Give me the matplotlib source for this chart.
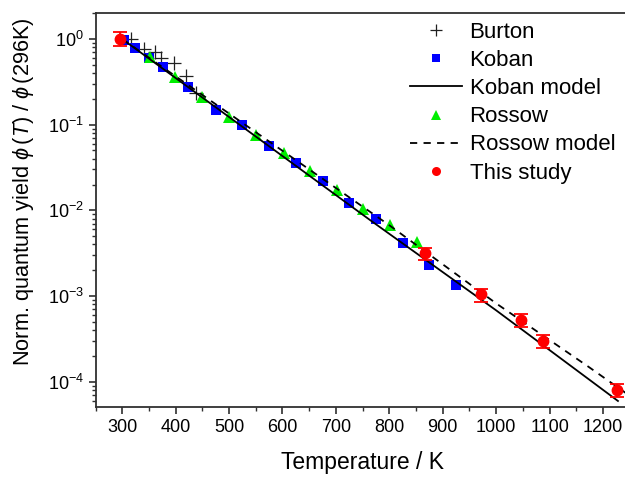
import numpy as np
import matplotlib
matplotlib.use("Agg")
import matplotlib.pyplot as plt
from matplotlib.lines import Line2D
from matplotlib.ticker import MultipleLocator, LogLocator, NullFormatter

plt.rcParams['font.family'] = ['Liberation Sans', 'DejaVu Sans']
plt.rcParams['mathtext.fontset'] = 'custom'
plt.rcParams['mathtext.rm'] = 'Liberation Sans'
plt.rcParams['mathtext.it'] = 'Liberation Sans:italic'
plt.rcParams['mathtext.bf'] = 'Liberation Sans:bold'

# ---- data ----
burton_T = [316, 341, 362, 372, 397, 419, 438]
burton_phi = [1.0, 0.77, 0.70, 0.60, 0.52, 0.37, 0.235]

koban_T = [304, 324, 351, 376, 424, 475, 525, 575, 625, 675, 725, 775, 825, 875, 925]
koban_phi = [0.98, 0.79, 0.605, 0.475, 0.277, 0.148, 0.0989, 0.0567, 0.0353,
             0.0219, 0.01225, 0.00782, 0.00417, 0.00229, 0.00136]

rossow_T = [352, 399, 450, 500, 551, 602, 652, 702, 751, 801, 851]
rossow_phi = [0.62, 0.363, 0.212, 0.124, 0.0756, 0.0462, 0.029, 0.0172,
              0.0103, 0.00671, 0.00422]

koban_model_T = [300, 500, 764, 1000, 1228]
koban_model_phi = [1.0, 0.123, 7.7e-3, 6.8e-4, 5.95e-5]

rossow_model_T = [300, 500, 800, 1000, 1173, 1245]
rossow_model_phi = [1.0, 0.135, 6.7e-3, 8.2e-4, 1.49e-4, 7.2e-5]

study_T = [296, 867, 972, 1047, 1087, 1226]
study_phi = [1.0, 3.14e-3, 1.05e-3, 5.31e-4, 2.99e-4, 8.08e-5]
study_hi = [1.20, 3.68e-3, 1.22e-3, 6.1e-4, 3.48e-4, 9.3e-5]
study_lo = [0.835, 2.62e-3, 8.5e-4, 4.3e-4, 2.44e-4, 6.6e-5]

legend_labels = ['Burton', 'Koban', 'Koban model', 'Rossow', 'Rossow model', 'This study']

# ---- figure ----
W, H = 625, 478
fig = plt.figure(figsize=(W / 100, H / 100), dpi=100)
l, r, t, b = 95.5, 629.7, 12.7, 407.0
ax = fig.add_axes([l / W, 1 - b / H, (r - l) / W, (b - t) / H])

gray = '#202020'
blue = '#0000ff'
green = '#00ee00'
red = '#ff0000'

ax.plot(burton_T, burton_phi, linestyle='none', marker='+', color=gray,
        markersize=10, markeredgewidth=0.9, zorder=3)
ax.plot(koban_T, koban_phi, linestyle='none', marker='s', color=blue,
        markersize=6.5, markeredgewidth=0, zorder=3)
ax.plot(koban_model_T, koban_model_phi, color='black', linewidth=1.3, zorder=4)
ax.plot(rossow_T, rossow_phi, linestyle='none', marker='^', color=green,
        markersize=8, markeredgewidth=0, zorder=3)
dash = (0, (4, 3.5))
ax.plot(rossow_model_T, rossow_model_phi, color='black', linewidth=1.3,
        linestyle=dash, zorder=4)

yerr = [np.array(study_phi) - np.array(study_lo), np.array(study_hi) - np.array(study_phi)]
ax.errorbar(study_T, study_phi, yerr=yerr, fmt='o', color=red,
            ecolor=red, markersize=7.5, capsize=5, elinewidth=1.3,
            capthick=1.3, zorder=5)

ax.set_yscale('log')
ax.set_xlim(250, 1250)
ax.set_ylim(5.06e-5, 2.03)

ax.xaxis.set_major_locator(MultipleLocator(100))
ax.xaxis.set_minor_locator(MultipleLocator(50))
ax.yaxis.set_major_locator(LogLocator(base=10, numticks=10))
ax.yaxis.set_minor_locator(LogLocator(base=10, subs=np.arange(2, 10), numticks=20))
ax.yaxis.set_minor_formatter(NullFormatter())

for s in ax.spines.values():
    s.set_linewidth(1.3)
    s.set_color('#303030')
ax.tick_params(which='major', direction='out', length=5, width=1.2,
               labelsize=13, color='#303030')
ax.tick_params(which='minor', direction='out', length=3, width=1.0, color='#303030')

ax.set_xticks(np.arange(300, 1201, 100))
ax.set_xlabel('Temperature / K', fontsize=16.5, labelpad=11)
ax.set_ylabel(r'Norm. quantum yield $\phi\,(T)$ / $\phi\,$(296K)', fontsize=15.7)
ax.yaxis.set_label_coords((36 - l) / (r - l), (b - 192) / (b - t))

handles = [
    Line2D([], [], linestyle='none', marker='+', color=gray, markersize=8, markeredgewidth=0.9),
    Line2D([], [], linestyle='none', marker='s', color=blue, markersize=5.5, markeredgewidth=0),
    Line2D([], [], color='black', linewidth=1.3),
    Line2D([], [], linestyle='none', marker='^', color=green, markersize=7, markeredgewidth=0),
    Line2D([], [], color='black', linewidth=1.3, linestyle=dash),
    Line2D([], [], linestyle='none', marker='o', color=red, markersize=6.5, markeredgewidth=0),
]
leg = fig.legend(handles, legend_labels, loc='upper left',
                 bbox_to_anchor=(410 / W, 1 - 22 / H), frameon=False,
                 fontsize=16, handlelength=2.35, handletextpad=0.33,
                 labelspacing=0.32, borderpad=0, borderaxespad=0)

fig.savefig('out.png', dpi=100)
